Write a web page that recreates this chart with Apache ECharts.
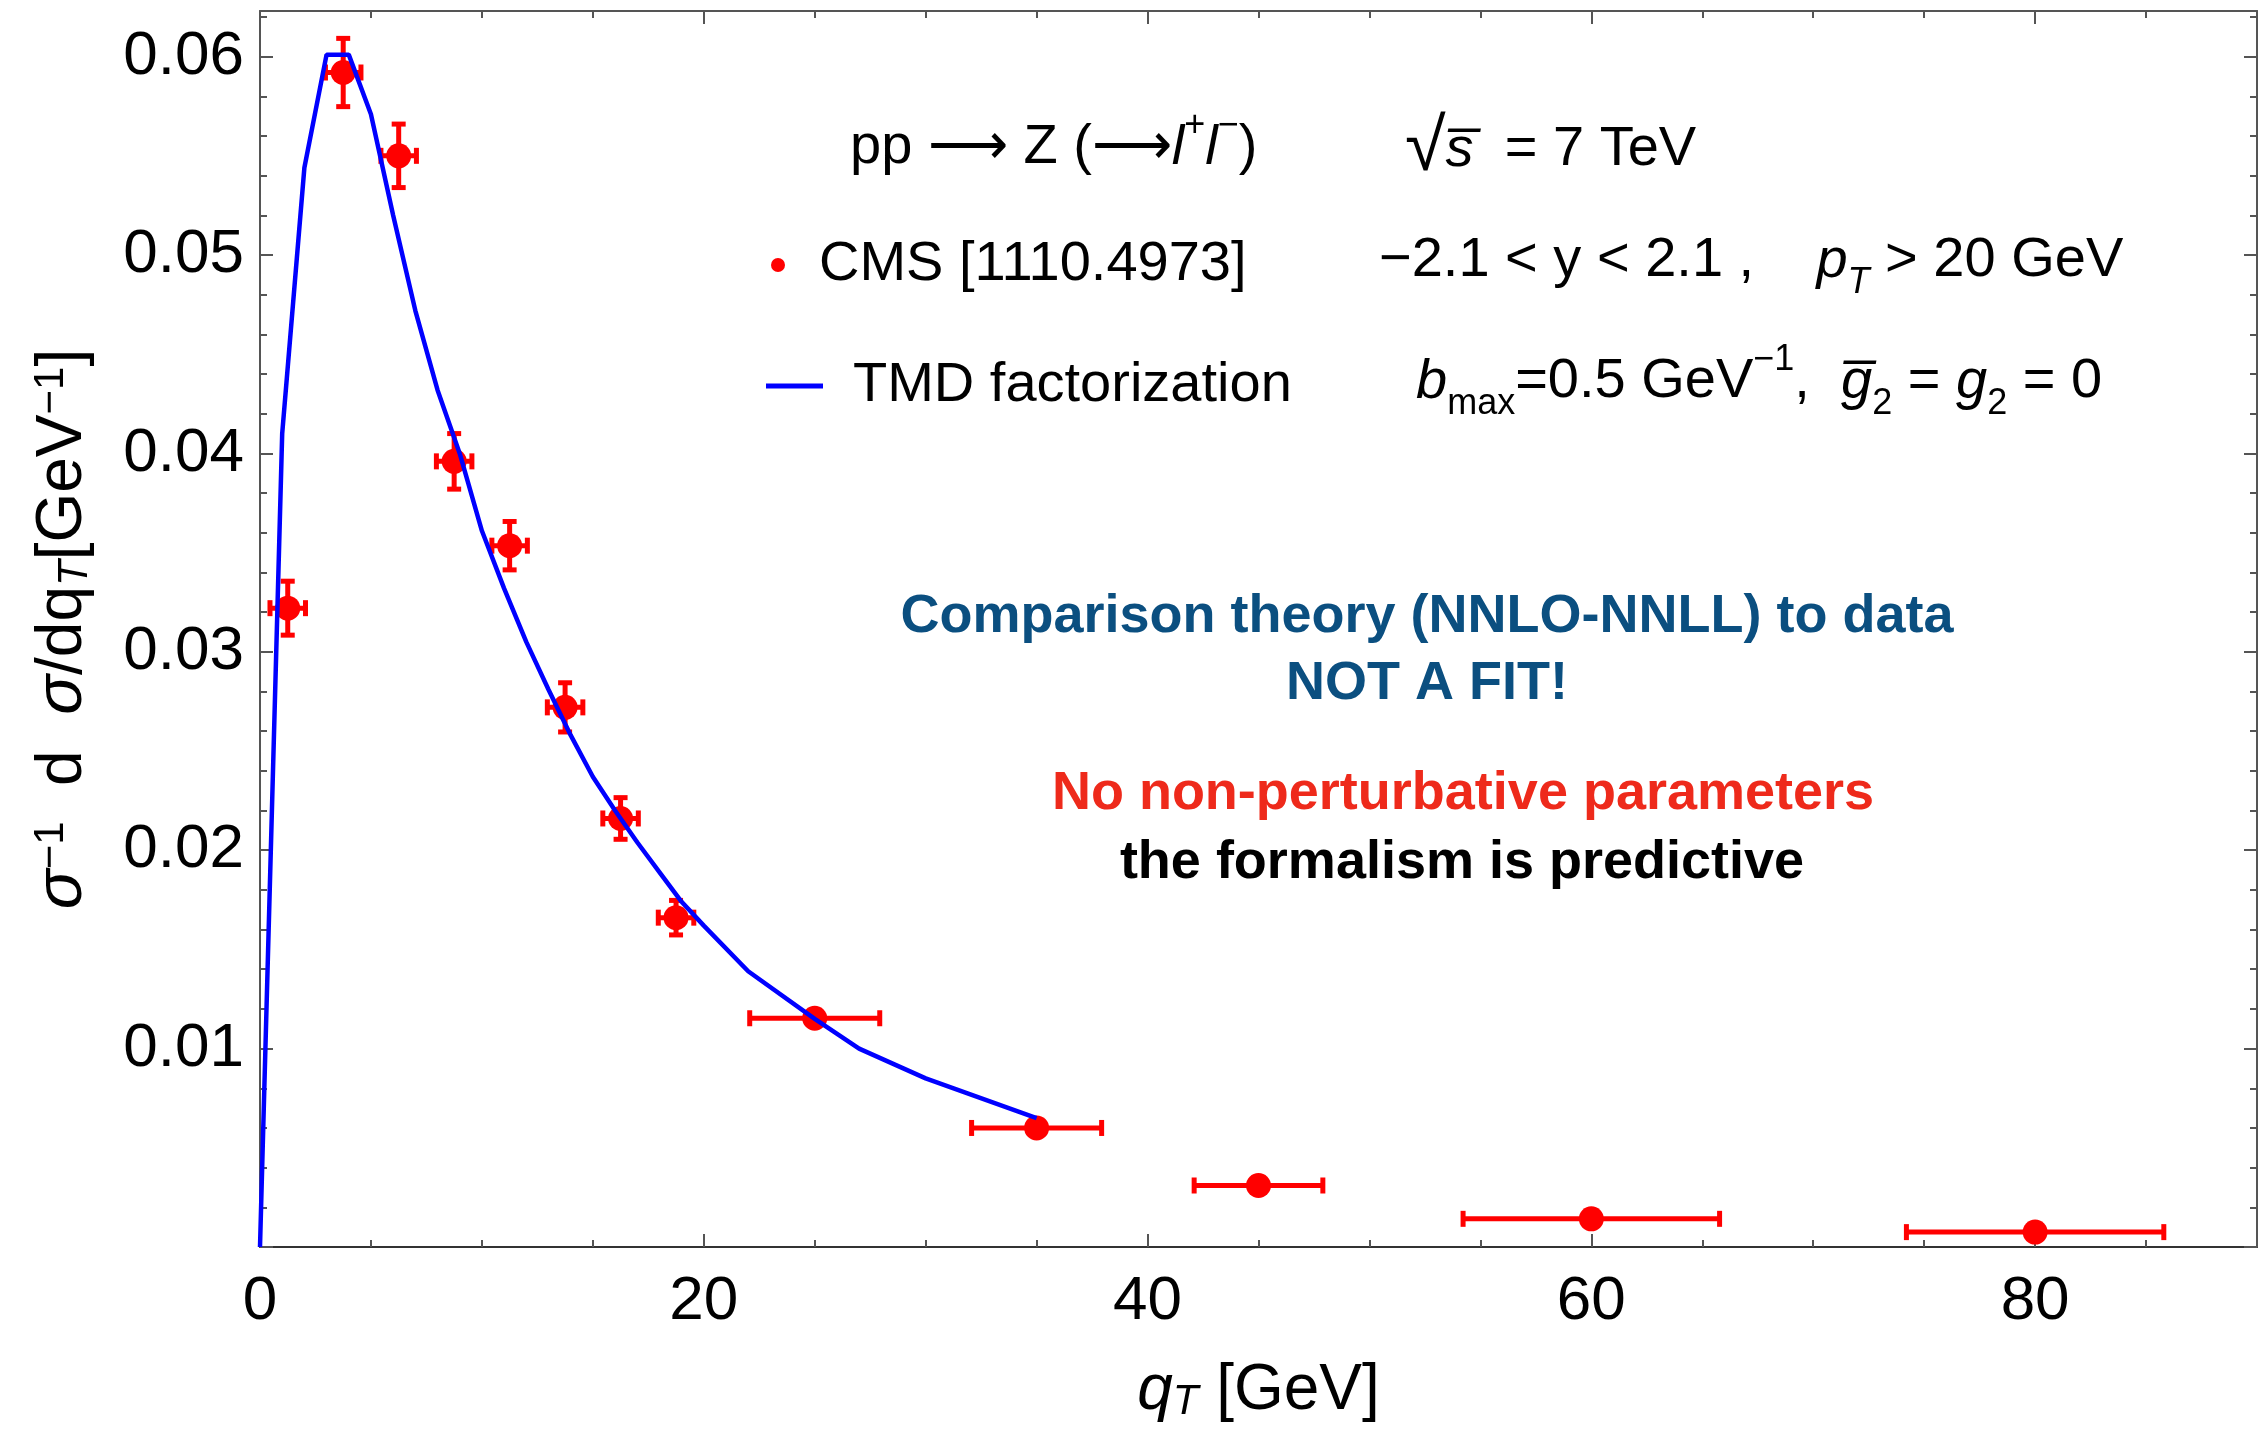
<!DOCTYPE html>
<html>
<head>
<meta charset="utf-8">
<script src="https://cdn.jsdelivr.net/npm/echarts@6/dist/echarts.min.js"></script>
<style>
  html, body { margin: 0; padding: 0; background: #fff; }
  #chart { width: 2260px; height: 1435px; }
</style>
</head>
<body>
<div id="chart"></div>
<script>
// CMS data points (bin centre, value, half-width of bin bar, stat error)
const cmsQ = [1.25, 3.75, 6.25, 8.75, 11.25, 13.75, 16.25, 18.75, 25, 35, 45, 60, 80];
const cmsVal = [0.0322, 0.0592, 0.0550, 0.0396, 0.03535, 0.0272, 0.0216, 0.0166, 0.01153, 0.0060, 0.0031, 0.00142, 0.00075];
const cmsErrQ = [0.8, 0.8, 0.8, 0.8, 0.8, 0.8, 0.8, 0.8, 2.93, 2.93, 2.9, 5.78, 5.8];
const cmsErrVal = [0.00136, 0.00172, 0.0016, 0.0014, 0.00122, 0.00124, 0.00105, 0.00087, 0, 0, 0, 0, 0];

// TMD factorization curve
const theoryQ = [0, 1, 2, 3, 4, 5, 6, 7, 8, 9, 10, 11, 12, 13, 14, 15, 16, 17, 18, 19, 20, 22, 25, 27, 30, 35];
const theoryVal = [0, 0.0410, 0.0544, 0.0601, 0.0601, 0.0571, 0.0520, 0.0472, 0.0432, 0.0400, 0.0361, 0.0332,
  0.0305, 0.0281, 0.0258, 0.0237, 0.0220, 0.0204, 0.0189, 0.0174, 0.0162, 0.0139, 0.0115, 0.0100, 0.0085, 0.0065];

const xTicks = [0, 20, 40, 60, 80];
const yTicks = [0.01, 0.02, 0.03, 0.04, 0.05, 0.06];

const FONT = '"Liberation Sans", Arial, sans-serif';
const FRAME = '#555';

const chart = echarts.init(document.getElementById('chart'));

const points = cmsQ.map((q, i) => [q, cmsVal[i]]);
const bars = cmsQ.map((q, i) => [q, cmsVal[i], cmsErrQ[i], cmsErrVal[i]]);
const curve = theoryQ.map((q, i) => [q, theoryVal[i]]);

function renderErrorBar(params, api) {
  const q = api.value(0), v = api.value(1), dq = api.value(2), dv = api.value(3);
  const style = { stroke: '#ff0000', lineWidth: 5 };
  const l = api.coord([q - dq, v]);
  const r = api.coord([q + dq, v]);
  const kids = [
    { type: 'line', shape: { x1: l[0], y1: l[1], x2: r[0], y2: r[1] }, style },
    { type: 'line', shape: { x1: l[0], y1: l[1] - 8, x2: l[0], y2: l[1] + 8 }, style },
    { type: 'line', shape: { x1: r[0], y1: r[1] - 8, x2: r[0], y2: r[1] + 8 }, style }
  ];
  if (dv > 0) {
    const t = api.coord([q, v + dv]);
    const b = api.coord([q, v - dv]);
    kids.push(
      { type: 'line', shape: { x1: t[0], y1: t[1], x2: b[0], y2: b[1] }, style },
      { type: 'line', shape: { x1: t[0] - 7, y1: t[1], x2: t[0] + 7, y2: t[1] }, style },
      { type: 'line', shape: { x1: b[0] - 7, y1: b[1], x2: b[0] + 7, y2: b[1] }, style }
    );
  }
  return { type: 'group', children: kids };
}

function tickAxis(pos, interval, len, line, base) {
  return {
    type: 'value', position: pos, min: base.min, max: base.max, interval: interval,
    axisLine: { show: line, onZero: false, lineStyle: { color: FRAME, width: 2 } },
    axisTick: { show: true, inside: true, length: len, lineStyle: { color: FRAME, width: 2 } },
    axisLabel: { show: false }, splitLine: { show: false }
  };
}

const xBase = { min: 0, max: 90 };
const yBase = { min: 0, max: 0.0623 };

const rich = {
  i: { fontFamily: FONT, fontStyle: 'italic', fontSize: 56, color: '#000' },
  n: { fontFamily: FONT, fontSize: 56, color: '#000' },
  root: { fontFamily: FONT, fontSize: 74, color: '#000' },
  sup: { fontFamily: FONT, fontSize: 36, color: '#000', verticalAlign: 'top' },
  sub: { fontFamily: FONT, fontSize: 36, color: '#000', verticalAlign: 'bottom' },
  isub: { fontFamily: FONT, fontSize: 36, fontStyle: 'italic', color: '#000', verticalAlign: 'bottom' }
};

function txt(x, y, text) {
  return {
    type: 'text', x: x, y: y,
    style: { text: text, rich: rich, align: 'left', verticalAlign: 'middle', lineHeight: 80,
      font: '56px ' + FONT, fill: '#000' }
  };
}

function note(x, y, text, color) {
  return {
    type: 'text', x: x, y: y,
    style: { text: text, align: 'center', verticalAlign: 'middle', fill: color,
      font: 'bold 54px ' + FONT }
  };
}

chart.setOption({
  animation: false,
  backgroundColor: '#fff',
  grid: { left: 260, right: 2, top: 11, bottom: 188 },
  xAxis: [
    {
      type: 'value', position: 'bottom', min: 0, max: 90, interval: 20,
      axisLine: { show: true, onZero: false, lineStyle: { color: '#333', width: 2 } },
      axisTick: { show: true, inside: true, length: 13, lineStyle: { color: FRAME, width: 2 } },
      axisLabel: {
        margin: 24, fontFamily: FONT, fontSize: 62, color: '#000',
        formatter: v => (xTicks.indexOf(v) >= 0 ? String(v) : '')
      },
      splitLine: { show: false },
      name: '{i|q}{isub|T} [GeV]', nameLocation: 'middle', nameGap: 112,
      nameTextStyle: {
        fontFamily: FONT, fontSize: 64, color: '#000',
        rich: {
          i: { fontFamily: FONT, fontStyle: 'italic', fontSize: 64, color: '#000' },
          isub: { fontFamily: FONT, fontStyle: 'italic', fontSize: 42, color: '#000', verticalAlign: 'bottom' }
        }
      }
    },
    tickAxis('bottom', 5, 7, false, xBase),
    tickAxis('top', 5, 7, true, xBase),
    tickAxis('top', 20, 13, false, xBase)
  ],
  yAxis: [
    {
      type: 'value', position: 'left', min: 0, max: 0.0623, interval: 0.01,
      axisLine: { show: true, onZero: false, lineStyle: { color: FRAME, width: 2 } },
      axisTick: { show: true, inside: true, length: 13, lineStyle: { color: FRAME, width: 2 } },
      axisLabel: {
        margin: 16, fontFamily: FONT, fontSize: 62, color: '#000',
        formatter: v => {
          const hit = yTicks.find(t => Math.abs(t - v) < 1e-9);
          return hit ? hit.toFixed(2) : '';
        }
      },
      splitLine: { show: false },
      name: '{s|σ}{sup|−1}  d  {s|σ}/dq{isub|T}[GeV{sup|−1}]',
      nameLocation: 'middle', nameRotate: 90, nameGap: 164,
      nameTextStyle: {
        fontFamily: FONT, fontSize: 64, color: '#000',
        rich: {
          s: { fontFamily: FONT, fontStyle: 'italic', fontSize: 66, color: '#000' },
          sup: { fontFamily: FONT, fontSize: 42, color: '#000', verticalAlign: 'top' },
          isub: { fontFamily: FONT, fontStyle: 'italic', fontSize: 42, color: '#000', verticalAlign: 'bottom' }
        }
      }
    },
    tickAxis('left', 0.002, 7, false, yBase),
    tickAxis('right', 0.002, 7, true, yBase),
    tickAxis('right', 0.01, 13, false, yBase)
  ],
  legend: [
    {
      data: [{ name: 'CMS [1110.4973]', icon: 'circle' }],
      left: 766, top: 232, itemWidth: 14, itemHeight: 14, selectedMode: false,
      textStyle: { fontFamily: FONT, fontSize: 56, color: '#000', padding: [0, 0, 0, 29] }
    },
    {
      data: [{ name: 'TMD factorization', icon: 'rect' }],
      left: 761, top: 353, itemWidth: 57, itemHeight: 5, selectedMode: false,
      textStyle: { fontFamily: FONT, fontSize: 56, color: '#000', padding: [0, 0, 0, 25] }
    }
  ],
  graphic: [
    txt(850, 148, '{n|pp ⟶ Z (⟶}{i|l}{sup|+}{i|l}{sup|−}{n|)}'),
    txt(1405, 150, '{root|√}{i|s̅}{n|  = 7 TeV}'),
    txt(1379, 261, '{n|−2.1 < y < 2.1 ,    }{i|p}{isub|T}{n| > 20 GeV}'),
    txt(1416, 382, '{i|b}{sub|max}{n|=0.5 GeV}{sup|−1}{n|,  }{i|g̅}{sub|2}{n| = }{i|g}{sub|2}{n| = 0}'),
    note(1427, 617, 'Comparison theory (NNLO-NNLL) to data', '#0b4f80'),
    note(1427, 684, 'NOT A FIT!', '#0b4f80'),
    note(1463, 794, 'No non-perturbative parameters', '#ee2a1b'),
    note(1462, 863, 'the formalism is predictive', '#000')
  ],
  series: [
    {
      name: 'CMS errors', type: 'custom', xAxisIndex: 0, yAxisIndex: 0,
      renderItem: renderErrorBar, data: bars, z: 1, silent: true,
      encode: { x: 0, y: 1 }
    },
    {
      name: 'CMS [1110.4973]', type: 'scatter', xAxisIndex: 0, yAxisIndex: 0,
      data: points, symbol: 'circle', symbolSize: 25,
      itemStyle: { color: '#ff0000', opacity: 1 }, z: 2
    },
    {
      name: 'TMD factorization', type: 'line', xAxisIndex: 0, yAxisIndex: 0,
      data: curve, showSymbol: false, symbol: 'none', smooth: false, clip: true,
      lineStyle: { color: '#0000ff', width: 4.5 }, itemStyle: { color: '#0000ff' }, z: 3
    }
  ]
});
</script>
</body>
</html>
